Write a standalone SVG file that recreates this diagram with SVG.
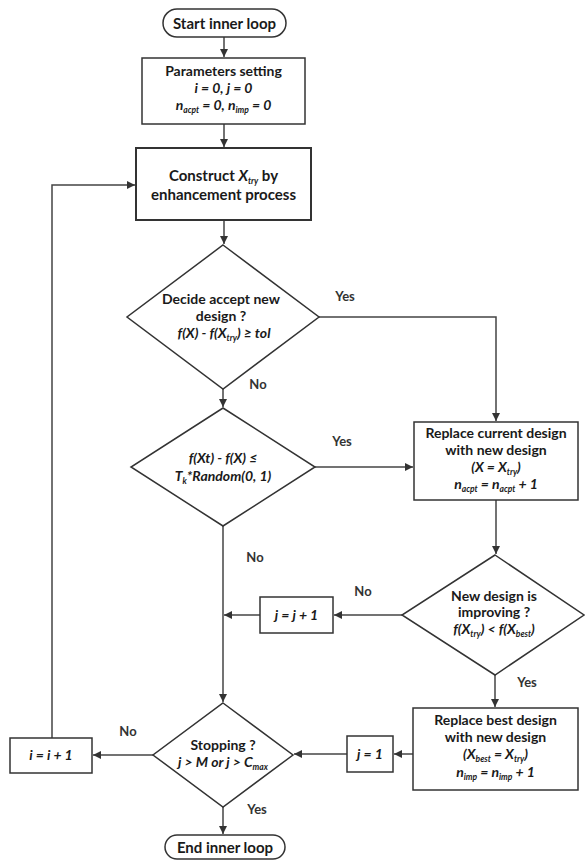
<svg xmlns="http://www.w3.org/2000/svg" width="585" height="864" viewBox="0 0 585 864">
  <style>
    .box { fill: #ffffff; stroke: #333333; stroke-width: 1.5; }
    .thick { stroke-width: 2; }
    .conn { fill: none; stroke: #444444; stroke-width: 1.5; }
    text { font-family: Lato, "Open Sans", "Liberation Sans", sans-serif; font-weight: bold; font-size: 14px; fill: #1a1a1a; text-anchor: middle; }
    .big { font-size: 15px; }
    .it { font-style: italic; }
    .lbl { font-size: 13px; fill: #333333; }
    .sub { font-size: 8.5px; }
  </style>
  <defs>
    <marker id="arrow" viewBox="0 0 10 10" refX="10" refY="5" markerWidth="8" markerHeight="8" markerUnits="userSpaceOnUse" orient="auto">
      <path d="M0,0 L10,5 L0,10 z" fill="#333333"/>
    </marker>
  </defs>
  <rect width="585" height="864" fill="#ffffff"/>

  <!-- connectors -->
  <g id="connectors">
    <path class="conn" d="M224,37 V57" marker-end="url(#arrow)"/>
    <path class="conn" d="M224,124 V147" marker-end="url(#arrow)"/>
    <path class="conn" d="M224,220 V244" marker-end="url(#arrow)"/>
    <path class="conn" d="M319,317 H496 V421" marker-end="url(#arrow)"/>
    <path class="conn" d="M223,389 V407" marker-end="url(#arrow)"/>
    <path class="conn" d="M315,467 H413" marker-end="url(#arrow)"/>
    <path class="conn" d="M496,500 V554" marker-end="url(#arrow)"/>
    <path class="conn" d="M402,615 H334" marker-end="url(#arrow)"/>
    <path class="conn" d="M260,615 H224" marker-end="url(#arrow)"/>
    <path class="conn" d="M223,526 V702" marker-end="url(#arrow)"/>
    <path class="conn" d="M495,675 V707" marker-end="url(#arrow)"/>
    <path class="conn" d="M413,754 H394" marker-end="url(#arrow)"/>
    <path class="conn" d="M347,754 H294" marker-end="url(#arrow)"/>
    <path class="conn" d="M153,755 H93" marker-end="url(#arrow)"/>
    <path class="conn" d="M52,738 V185 H135" marker-end="url(#arrow)"/>
    <path class="conn" d="M223,807 V834" marker-end="url(#arrow)"/>

    <text class="lbl" x="345" y="301">Yes</text>
    <text class="lbl" x="258" y="389">No</text>
    <text class="lbl" x="342" y="446">Yes</text>
    <text class="lbl" x="255" y="562">No</text>
    <text class="lbl" x="363" y="596">No</text>
    <text class="lbl" x="527" y="687">Yes</text>
    <text class="lbl" x="128" y="736">No</text>
    <text class="lbl" x="257" y="814">Yes</text>
  </g>

  <g id="start">
    <rect class="box" x="163" y="9" width="123" height="28" rx="14"/>
    <text class="big" x="224.5" y="28.5">Start inner loop</text>
  </g>

  <g id="params">
    <rect class="box" x="142" y="58" width="163" height="66"/>
    <text x="223.5" y="76">Parameters setting</text>
    <text class="it" x="223.5" y="93">i = 0, j = 0</text>
    <text class="it" x="223.5" y="110">n<tspan class="sub" dy="2.5">acpt</tspan><tspan dy="-2.5"> = 0, n</tspan><tspan class="sub" dy="2.5">imp</tspan><tspan dy="-2.5"> = 0</tspan></text>
  </g>

  <g id="construct">
    <rect class="box thick" x="136" y="148" width="175" height="72"/>
    <text class="big" x="223.5" y="181">Construct <tspan class="it">X</tspan><tspan class="sub it" dy="3">try</tspan><tspan dy="-3"> by</tspan></text>
    <text class="big" x="223.5" y="200">enhancement process</text>
  </g>

  <g id="decide">
    <polygon class="box" points="223,245 319,317 223,389 127,317"/>
    <text x="221" y="304">Decide accept new</text>
    <text x="221" y="321">design ?</text>
    <text class="it" x="224" y="338">f(X) - f(X<tspan class="sub" dy="2.5">try</tspan><tspan dy="-2.5">) ≥ tol</tspan></text>
  </g>

  <g id="metropolis">
    <polygon class="box" points="223,408 315,467 223,526 131,467"/>
    <text class="it" x="223" y="463">f(Xt) - f(X) ≤</text>
    <text class="it" x="223" y="481">T<tspan class="sub" dy="2.5">k</tspan><tspan dy="-2.5">*Random(0, 1)</tspan></text>
  </g>

  <g id="replace-current">
    <rect class="box" x="414" y="422" width="164" height="78"/>
    <text x="496" y="438">Replace current design</text>
    <text x="496" y="455">with new design</text>
    <text class="it" x="496" y="472">(X = X<tspan class="sub" dy="2.5">try</tspan><tspan dy="-2.5">)</tspan></text>
    <text class="it" x="496" y="489">n<tspan class="sub" dy="2.5">acpt</tspan><tspan dy="-2.5"> = n</tspan><tspan class="sub" dy="2.5">acpt</tspan><tspan dy="-2.5"> + 1</tspan></text>
  </g>

  <g id="improving">
    <polygon class="box" points="495,555 584,615 495,675 402,615"/>
    <text x="494" y="601">New design is</text>
    <text x="494" y="617">improving ?</text>
    <text class="it" x="494" y="634">f(X<tspan class="sub" dy="2.5">try</tspan><tspan dy="-2.5">) &lt; f(X</tspan><tspan class="sub" dy="2.5">best</tspan><tspan dy="-2.5">)</tspan></text>
  </g>

  <g id="inc-j">
    <rect class="box" x="260" y="597" width="73" height="36"/>
    <text class="it" x="296.5" y="620">j = j + 1</text>
  </g>

  <g id="replace-best">
    <rect class="box" x="413" y="708" width="165" height="82"/>
    <text x="495.5" y="725">Replace best design</text>
    <text x="495.5" y="742">with new design</text>
    <text class="it" x="495.5" y="759">(X<tspan class="sub" dy="2.5">best</tspan><tspan dy="-2.5"> = X</tspan><tspan class="sub" dy="2.5">try</tspan><tspan dy="-2.5">)</tspan></text>
    <text class="it" x="495.5" y="777">n<tspan class="sub" dy="2.5">imp</tspan><tspan dy="-2.5"> = n</tspan><tspan class="sub" dy="2.5">imp</tspan><tspan dy="-2.5"> + 1</tspan></text>
  </g>

  <g id="reset-j">
    <rect class="box" x="347" y="736" width="46" height="36"/>
    <text class="it" x="370" y="759">j = 1</text>
  </g>

  <g id="stopping">
    <polygon class="box" points="223,703 293,755 223,807 153,755"/>
    <text x="223" y="750">Stopping ?</text>
    <text class="it" x="223" y="767">j &gt; M or j &gt; C<tspan class="sub" dy="2.5">max</tspan></text>
  </g>

  <g id="inc-i">
    <rect class="box" x="10" y="738" width="82" height="35"/>
    <text class="it" x="51" y="760">i = i + 1</text>
  </g>

  <g id="end">
    <rect class="box" x="165" y="835" width="120" height="24" rx="12"/>
    <text class="big" x="225" y="852.5">End inner loop</text>
  </g>
</svg>
